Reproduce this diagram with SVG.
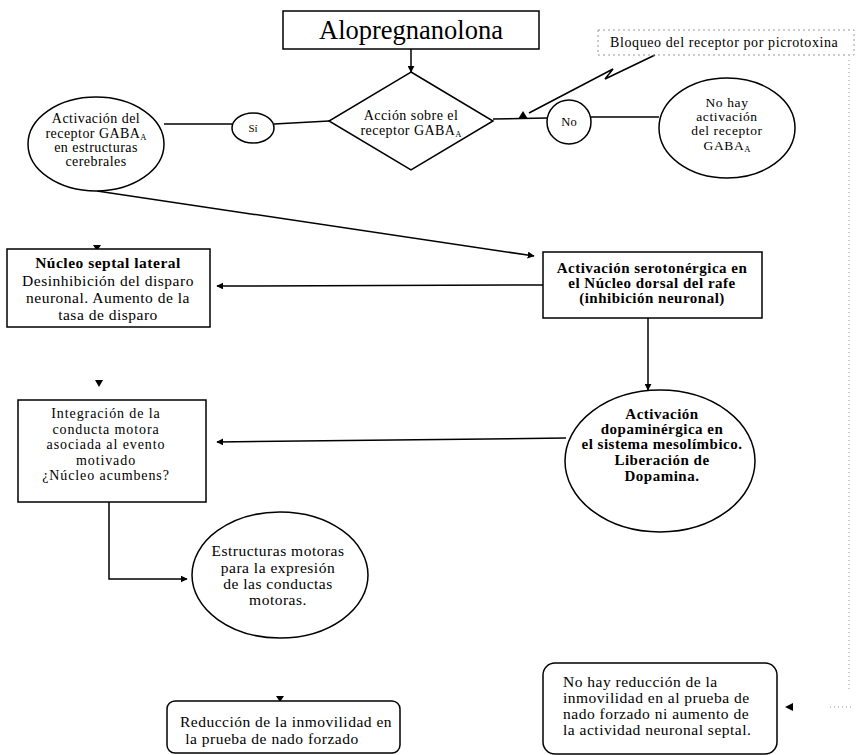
<svg xmlns="http://www.w3.org/2000/svg" width="859" height="755" viewBox="0 0 859 755">
  <defs>
    <marker id="arr" viewBox="0 0 10 10" refX="9" refY="5" markerWidth="7" markerHeight="7" markerUnits="userSpaceOnUse" orient="auto">
      <path d="M0,0 L10,5 L0,10 z" fill="#000"/>
    </marker>
    <style>
      .shape { fill: #fff; stroke: #000; stroke-width: 1.5; }
      .line { fill: none; stroke: #000; stroke-width: 1.5; }
      .tip { fill: #000; stroke: none; }
      text { font-family: "Liberation Serif", "Times New Roman", serif; fill: #000; }
      .t { font-size: 15.5px; letter-spacing: 0.5px; text-anchor: middle; }
      .s { font-size: 14px; letter-spacing: 0.45px; text-anchor: middle; }
      .r { font-size: 13.5px; letter-spacing: 0.6px; text-anchor: middle; }
      .i { font-size: 14px; letter-spacing: 0.9px; text-anchor: middle; }
      .l { font-size: 15.5px; letter-spacing: 0.5px; text-anchor: start; }
      .b { font-weight: bold; }
      .o { font-size: 15px; letter-spacing: 0.5px; }
      .sub { font-size: 8.5px; letter-spacing: 0; }
    </style>
  </defs>
  <rect width="859" height="755" fill="#fff"/>

  <!-- connectors -->
  <g id="connectors">
    <line class="line" x1="411" y1="49" x2="411" y2="72" marker-end="url(#arr)"/>
    <line class="line" x1="164" y1="124" x2="232" y2="124"/>
    <line class="line" x1="274" y1="124" x2="329" y2="121"/>
    <line class="line" x1="493" y1="119" x2="547" y2="118"/>
    <line class="line" x1="591" y1="117" x2="659" y2="117"/>
    <polygon class="tip" points="518,119 528,119 523,111"/>
    <polyline class="line" points="655,55 605,79 613,69 529,113" stroke-width="1.3"/>
    <line class="line" x1="97" y1="191" x2="534" y2="256" marker-end="url(#arr)"/>
    <line class="line" x1="543" y1="285" x2="217" y2="286" marker-end="url(#arr)"/>
    <line class="line" x1="648" y1="318" x2="648" y2="390" marker-end="url(#arr)"/>
    <line class="line" x1="566" y1="438" x2="217" y2="442" marker-end="url(#arr)"/>
    <polyline class="line" points="109,502 109,579 187,579" marker-end="url(#arr)"/>
    <polygon class="tip" points="93,245 101,245 97,251"/>
    <polygon class="tip" points="95,380 103,380 99,387"/>
    <polygon class="tip" points="276,696 284,696 280,702"/>
    <polygon class="tip" points="785,707 793,703 793,711"/>
    <path d="M849,60 V690 M830,707 H852" fill="none" stroke="#999" stroke-width="1" stroke-dasharray="1,3"/>
  </g>

  <!-- title -->
  <g id="alopregnanolona">
    <rect class="shape" x="283" y="11" width="256" height="38"/>
    <text x="411" y="39" font-size="26.5" text-anchor="middle">Alopregnanolona</text>
  </g>

  <!-- decision -->
  <g id="accion">
    <polygon class="shape" points="411,72 493,121 411,170 329,121"/>
    <text class="s" x="411" y="120">Acción sobre el</text>
    <text class="s" x="411" y="135">receptor GABA<tspan class="sub" dy="2">A</tspan></text>
  </g>

  <g id="si">
    <ellipse class="shape" cx="253" cy="128" rx="21" ry="15"/>
    <text x="253" y="132" font-size="11" text-anchor="middle">Sí</text>
  </g>

  <g id="no">
    <ellipse class="shape" cx="569" cy="122" rx="22" ry="22"/>
    <text x="569" y="126" font-size="12.5" text-anchor="middle">No</text>
  </g>

  <g id="activacion-gaba">
    <ellipse class="shape" cx="96" cy="144" rx="68" ry="47"/>
    <text class="s" x="96" y="123">Activación del</text>
    <text class="s" x="96" y="138">receptor GABA<tspan class="sub" dy="2">A</tspan></text>
    <text class="s" x="96" y="152">en estructuras</text>
    <text class="s" x="96" y="166">cerebrales</text>
  </g>

  <g id="no-activacion">
    <ellipse class="shape" cx="727" cy="128" rx="68" ry="50"/>
    <text class="r" x="727" y="107">No hay</text>
    <text class="r" x="727" y="121">activación</text>
    <text class="r" x="727" y="135">del receptor</text>
    <text class="r" x="727" y="150">GABA<tspan class="sub" dy="2">A</tspan></text>
  </g>

  <g id="bloqueo">
    <rect x="598" y="30" width="256" height="25" fill="none" stroke="#999" stroke-width="1" stroke-dasharray="2,3"/>
    <text x="610" y="47" font-size="14" letter-spacing="0.6">Bloqueo del receptor por picrotoxina</text>
  </g>

  <g id="serotonergica">
    <rect class="shape" x="543" y="252" width="219" height="66"/>
    <text class="t b o" x="652" y="273">Activación serotonérgica en</text>
    <text class="t b o" x="652" y="288">el Núcleo dorsal del rafe</text>
    <text class="t b o" x="652" y="303">(inhibición neuronal)</text>
  </g>

  <g id="septal">
    <rect class="shape" x="7" y="249" width="203" height="78"/>
    <text class="t b" x="108" y="268">Núcleo septal lateral</text>
    <text class="t" x="108" y="286">Desinhibición del disparo</text>
    <text class="t" x="108" y="303">neuronal. Aumento de la</text>
    <text class="t" x="108" y="320">tasa de disparo</text>
  </g>

  <g id="dopaminergica">
    <ellipse class="shape" cx="660" cy="461" rx="95" ry="71"/>
    <text class="t b o" x="662" y="419">Activación</text>
    <text class="t b o" x="662" y="434">dopaminérgica en</text>
    <text class="t b o" x="662" y="449">el sistema mesolímbico.</text>
    <text class="t b o" x="662" y="465">Liberación de</text>
    <text class="t b o" x="662" y="481">Dopamina.</text>
  </g>

  <g id="integracion">
    <rect class="shape" x="18" y="400" width="188" height="102"/>
    <text class="i" x="106" y="418">Integración de la</text>
    <text class="i" x="106" y="433.5">conducta motora</text>
    <text class="i" x="106" y="449">asociada al evento</text>
    <text class="i" x="106" y="464.5">motivado</text>
    <text class="i" x="106" y="480">¿Núcleo acumbens?</text>
  </g>

  <g id="estructuras">
    <ellipse class="shape" cx="280" cy="575" rx="88" ry="63"/>
    <text class="t" x="278" y="556">Estructuras motoras</text>
    <text class="t" x="278" y="573">para la expresión</text>
    <text class="t" x="278" y="589">de las conductas</text>
    <text class="t" x="278" y="605">motoras.</text>
  </g>

  <g id="reduccion">
    <rect class="shape" x="167" y="701" width="233" height="52" rx="8"/>
    <text class="t" x="286" y="727">Reducción de la inmovilidad en</text>
    <text class="t" x="272" y="744">la prueba de nado forzado</text>
  </g>

  <g id="no-reduccion">
    <rect class="shape" x="543" y="663" width="234" height="91" rx="12"/>
    <text class="l" x="563" y="687">No hay reducción de la</text>
    <text class="l" x="563" y="703">inmovilidad en al prueba de</text>
    <text class="l" x="563" y="719">nado forzado ni aumento de</text>
    <text class="l" x="563" y="735">la actividad neuronal septal.</text>
  </g>
</svg>
